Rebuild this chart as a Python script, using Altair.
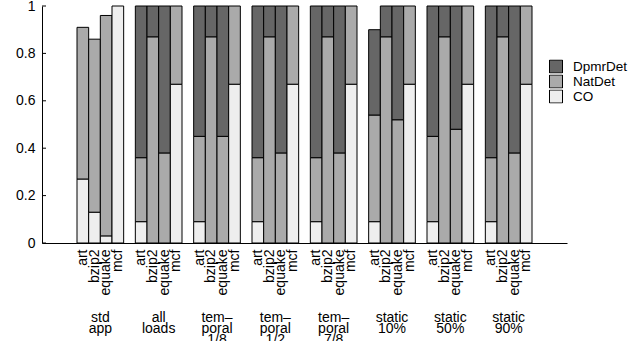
import altair as alt
import pandas as pd

groups = ["std\napp", "all\nloads", "tem\u2013\nporal\n1/8", "tem\u2013\nporal\n1/2",
          "tem\u2013\nporal\n7/8", "static\n10%", "static\n50%", "static\n90%"]
benchmarks = ["art", "bzip2", "equake", "mcf"]
series = ["DpmrDet", "NatDet", "CO"]
series_colors = ["#666666", "#aaaaaa", "#eeeeee"]

# segment heights per group, per benchmark (art, bzip2, equake, mcf)
co = [
    [0.27, 0.13, 0.03, 1.00],
    [0.09, 0.00, 0.00, 0.67],
    [0.09, 0.00, 0.00, 0.67],
    [0.09, 0.00, 0.00, 0.67],
    [0.09, 0.00, 0.00, 0.67],
    [0.09, 0.00, 0.00, 0.67],
    [0.09, 0.00, 0.00, 0.67],
    [0.09, 0.00, 0.00, 0.67],
]
natdet = [
    [0.64, 0.73, 0.93, 0.00],
    [0.27, 0.87, 0.38, 0.33],
    [0.36, 0.87, 0.45, 0.33],
    [0.27, 0.87, 0.38, 0.33],
    [0.27, 0.87, 0.38, 0.33],
    [0.45, 0.87, 0.52, 0.33],
    [0.36, 0.87, 0.48, 0.33],
    [0.27, 0.87, 0.38, 0.33],
]
dpmrdet = [
    [0.00, 0.00, 0.00, 0.00],
    [0.64, 0.13, 0.62, 0.00],
    [0.55, 0.13, 0.55, 0.00],
    [0.64, 0.13, 0.62, 0.00],
    [0.64, 0.13, 0.62, 0.00],
    [0.36, 0.13, 0.48, 0.00],
    [0.55, 0.13, 0.52, 0.00],
    [0.64, 0.13, 0.62, 0.00],
]
y_ticks = [0, 0.2, 0.4, 0.6, 0.8, 1]

rows = []
domain = []
spacer = [0]


def add_spacer():
    domain.append(f"#s{spacer[0]}")
    spacer[0] += 1


for _ in range(3):
    add_spacer()
for gi, g in enumerate(groups):
    if gi > 0:
        add_spacer()
    for bi, b in enumerate(benchmarks):
        key = f"{b}#{gi}"
        domain.append(key)
        for order, (name, vals) in enumerate([("CO", co), ("NatDet", natdet), ("DpmrDet", dpmrdet)]):
            v = vals[gi][bi]
            if v > 0:
                rows.append({"key": key, "series": name, "value": v, "order": order})
for _ in range(3):
    add_spacer()

df = pd.DataFrame(rows)
gdf = pd.DataFrame({"key": [f"bzip2#{gi}" for gi in range(len(groups))], "label": groups})
tdf = pd.DataFrame({"tick": y_ticks})

x_scale = alt.Scale(domain=domain, paddingInner=0, paddingOuter=0)
x_axis = alt.Axis(title=None, ticks=False, labelExpr="split(datum.value, '#')[0]",
                  labelAngle=270, labelAlign="right", labelBaseline="middle",
                  labelPadding=6, labelFontSize=14, labelOverlap=False,
                  domainColor="black", labelColor="black")
y_scale = alt.Scale(domain=[0, 1], nice=False)
y_axis = alt.Axis(title=None, values=y_ticks, format="~g", ticks=False, grid=False,
                  labelPadding=7, labelFontSize=14, domainColor="black", labelColor="black")

bars = alt.Chart(df).mark_bar(stroke="black", strokeWidth=1).encode(
    x=alt.X("key:N", scale=x_scale, axis=x_axis),
    y=alt.Y("value:Q", stack="zero", scale=y_scale, axis=y_axis),
    color=alt.Color("series:N", scale=alt.Scale(domain=series, range=series_colors),
                    legend=alt.Legend(title=None, orient="none", legendX=507, legendY=53.5,
                                      symbolType="square", symbolSize=169,
                                      symbolStrokeColor="black", symbolStrokeWidth=1,
                                      labelFontSize=13.5, labelOffset=10, rowPadding=1,
                                      clipHeight=14, padding=0, labelColor="black")),
    order=alt.Order("order:Q"),
)

ticks = alt.Chart(tdf).mark_rule(color="black", strokeWidth=1).encode(
    y=alt.Y("tick:Q", title=None, scale=y_scale),
    x=alt.value(0),
    x2=alt.value(4),
)

labels = alt.Chart(gdf).mark_text(lineBreak="\n", fontSize=14, lineHeight=11,
                                   baseline="alphabetic", align="center", color="black").encode(
    x=alt.X("key:N", bandPosition=1, scale=x_scale, title=None),
    y=alt.value(316),
    text="label:N",
)

chart = alt.layer(bars, ticks, labels).properties(
    width=525, height=237,
    autosize=alt.AutoSizeParams(type="none"),
    padding={"left": 42, "top": 6, "right": 71, "bottom": 98},
).configure(font="Liberation Sans").configure_view(strokeWidth=0)

chart.save("out.html", embed_options={"renderer": "svg", "actions": False})
